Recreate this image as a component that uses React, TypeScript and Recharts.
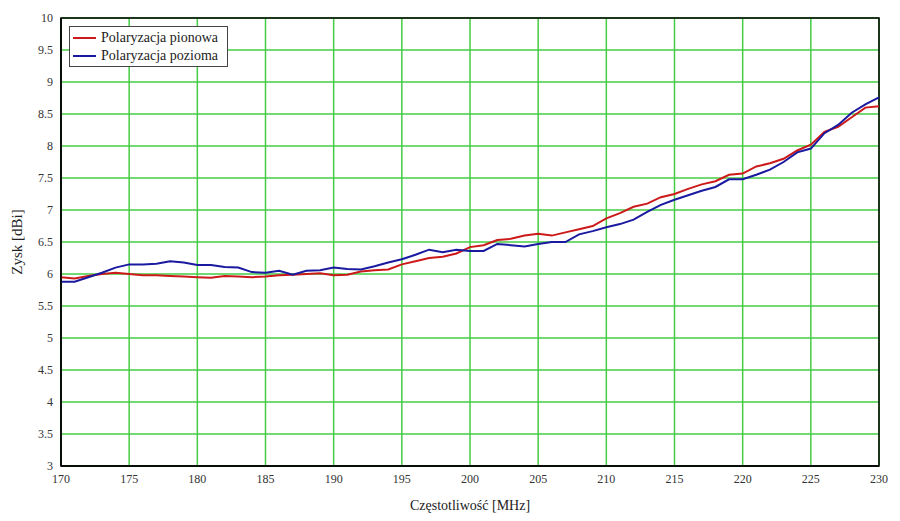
import React from "react";
import {
  LineChart,
  Line,
  XAxis,
  YAxis,
  CartesianGrid,
  ReferenceArea,
  Label,
} from "recharts";

const frequencies: number[] = [
  170, 171, 172, 173, 174, 175, 176, 177, 178, 179, 180, 181, 182, 183, 184, 185,
  186, 187, 188, 189, 190, 191, 192, 193, 194, 195, 196, 197, 198, 199, 200, 201,
  202, 203, 204, 205, 206, 207, 208, 209, 210, 211, 212, 213, 214, 215, 216, 217,
  218, 219, 220, 221, 222, 223, 224, 225, 226, 227, 228, 229, 230,
];

const pionowa: number[] = [
  5.95, 5.93, 5.97, 6.0, 6.02, 6.0, 5.98, 5.98, 5.97, 5.96, 5.95, 5.94, 5.97, 5.96, 5.95, 5.96,
  5.98, 5.99, 6.0, 6.01, 5.98, 5.99, 6.04, 6.06, 6.07, 6.15, 6.2, 6.25, 6.27, 6.32, 6.42, 6.45,
  6.53, 6.55, 6.6, 6.63, 6.6, 6.65, 6.7, 6.75, 6.87, 6.95, 7.05, 7.1, 7.2, 7.25, 7.33, 7.4,
  7.45, 7.55, 7.57, 7.68, 7.73, 7.8, 7.93, 8.02, 8.22, 8.3, 8.45, 8.6, 8.62,
];

const pozioma: number[] = [
  5.88, 5.88, 5.95, 6.02, 6.1, 6.15, 6.15, 6.16, 6.2, 6.18, 6.14, 6.14, 6.11, 6.1, 6.03, 6.02,
  6.05, 5.99, 6.05, 6.06, 6.1, 6.08, 6.07, 6.12, 6.18, 6.23, 6.3, 6.38, 6.34, 6.38, 6.36, 6.36,
  6.47, 6.45, 6.43, 6.47, 6.5, 6.5, 6.62, 6.67, 6.73, 6.78, 6.85, 6.97, 7.08, 7.16, 7.23, 7.3,
  7.36, 7.48, 7.48, 7.55, 7.63, 7.75, 7.9, 7.96, 8.2, 8.33, 8.52, 8.65, 8.76,
];

const xTicks: number[] = [170, 175, 180, 185, 190, 195, 200, 205, 210, 215, 220, 225, 230];
const yTicks: number[] = [3, 3.5, 4, 4.5, 5, 5.5, 6, 6.5, 7, 7.5, 8, 8.5, 9, 9.5, 10];

const seriesNames: string[] = ["Polaryzacja pionowa", "Polaryzacja pozioma"];
const seriesColors: string[] = ["#cc1a1a", "#1a1aa0"];

const data = frequencies.map((f, i) => ({
  f,
  pionowa: pionowa[i],
  pozioma: pozioma[i],
}));

const FONT = "'Liberation Serif', 'Times New Roman', serif";

const LegendBox = () => (
  <div
    style={{
      position: "absolute",
      left: 69,
      top: 26,
      border: "1px solid #444",
      background: "#fff",
      padding: "2px 4px 1px 3px",
      fontFamily: FONT,
      fontSize: 14,
      color: "#222",
      lineHeight: "18px",
      width: 150,
      whiteSpace: "nowrap",
    }}
  >
    {seriesNames.map((n, i) => (
      <div key={n} style={{ display: "flex", alignItems: "center" }}>
        <span
          style={{
            display: "inline-block",
            width: 23,
            height: 2,
            background: seriesColors[i],
            marginRight: 5,
          }}
        />
        {n}
      </div>
    ))}
  </div>
);

export default function App() {
  const tickStyle = { fontFamily: FONT, fontSize: 12, fill: "#333" };
  return (
    <div style={{ position: "absolute", left: 0, top: 0, background: "#fff", fontFamily: FONT }}>
      <LineChart
        width={900}
        height={521}
        data={data}
        margin={{ top: 18, right: 21, left: 0, bottom: 0 }}
        style={{ fontFamily: FONT }}
      >
        <CartesianGrid stroke="#44cc44" strokeWidth={1.5} />
        <XAxis
          dataKey="f"
          type="number"
          domain={[170, 230]}
          ticks={xTicks}
          interval={0}
          height={55}
          tickLine={false}
          axisLine={{ stroke: "#000", strokeWidth: 1.5 }}
          tick={tickStyle}
          tickMargin={2}
        >
          <Label
            value="Częstotliwość [MHz]"
            position="insideBottom"
            offset={11}
            style={{ fontFamily: FONT, fontSize: 14, fill: "#222" }}
          />
        </XAxis>
        <YAxis
          type="number"
          domain={[3, 10]}
          ticks={yTicks}
          interval={0}
          width={61}
          tickLine={false}
          axisLine={{ stroke: "#000", strokeWidth: 1.5 }}
          tick={tickStyle}
          tickMargin={2}
          allowDataOverflow
        >
          <Label
            value="Zysk [dBi]"
            angle={-90}
            position="insideLeft"
            offset={17}
            style={{ fontFamily: FONT, fontSize: 15, fill: "#222", textAnchor: "middle" }}
          />
        </YAxis>
        <Line
          type="linear"
          dataKey="pionowa"
          name={seriesNames[0]}
          stroke={seriesColors[0]}
          strokeWidth={2}
          dot={false}
          isAnimationActive={false}
        />
        <Line
          type="linear"
          dataKey="pozioma"
          name={seriesNames[1]}
          stroke={seriesColors[1]}
          strokeWidth={2}
          dot={false}
          isAnimationActive={false}
        />
        <ReferenceArea
          x1={170}
          x2={230}
          y1={3}
          y2={10}
          fill="none"
          stroke="#000"
          strokeWidth={1.5}
          fillOpacity={0}
        />
      </LineChart>
      <LegendBox />
    </div>
  );
}
